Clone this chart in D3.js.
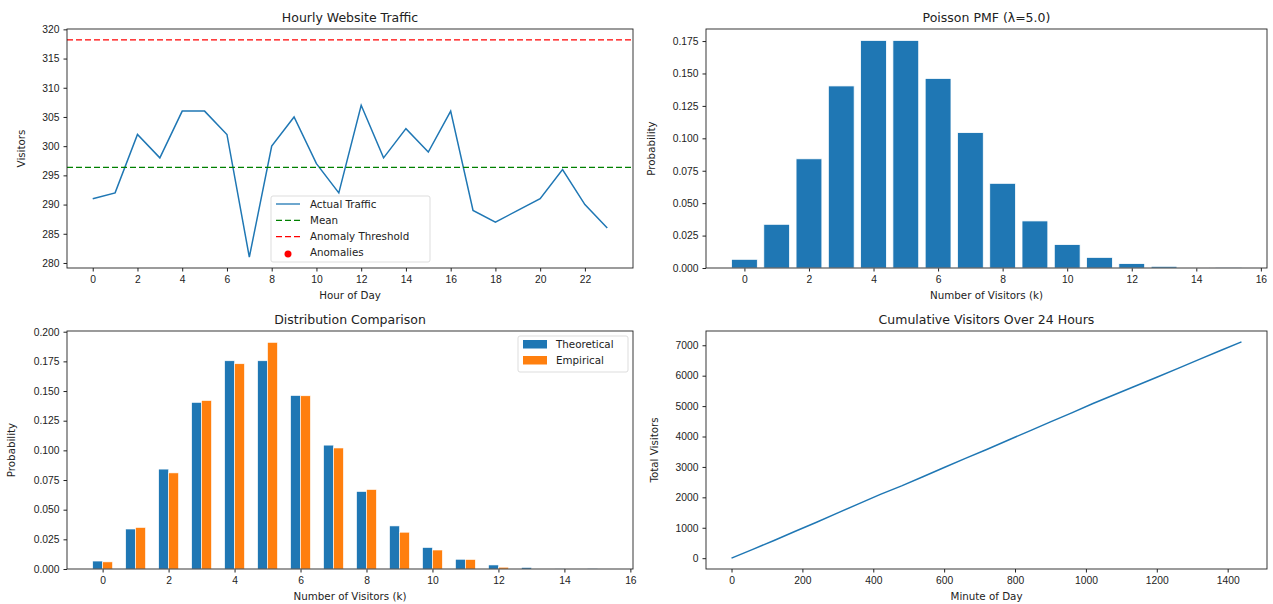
<!DOCTYPE html>
<html>
<head>
<meta charset="utf-8">
<script src="https://cdn.jsdelivr.net/npm/d3@7"></script>
<style>
  body { margin: 0; background: #fff; }
  svg { font-family: "DejaVu Sans", sans-serif; }
  .tick text { font-size: 10.3px; fill: #222; }
  .tick line { stroke: #222; }
  .domain { stroke: none; }
</style>
</head>
<body>
<svg width="1273" height="604"></svg>
<script>
// hourly traffic
var hours = d3.range(0, 24);
var traffic = [291, 292, 302, 298, 306, 306, 302, 281, 300, 305, 297, 292,
               307, 298, 303, 299, 306, 289, 287, 289, 291, 296, 290, 286];
var threshold = 318.2;

// poisson pmf
var kValues = d3.range(0, 16);
var theoretical = [0.0067, 0.0337, 0.0842, 0.1404, 0.1755, 0.1755, 0.1462, 0.1044,
                   0.0653, 0.0363, 0.0181, 0.0082, 0.0034, 0.0013, 0.0005, 0.0002];
var empirical = [0.006, 0.035, 0.081, 0.142, 0.173, 0.191, 0.146, 0.102,
                 0.067, 0.031, 0.016, 0.008, 0.0015, 0, 0, 0];

// cumulative visitors, sampled every hour
var minutes = [0, 60, 120, 180, 240, 300, 360, 420, 480, 540, 600, 660, 720,
               780, 840, 900, 960, 1020, 1080, 1140, 1200, 1260, 1320, 1380, 1439];
var cumulative = [0].concat(Array.from(d3.cumsum(traffic)));

var svg = d3.select("svg");
var blue = "#1f77b4", orange = "#ff7f0e";
var dash = "6,3";

function panel(box, xScale, yScale, xTicks, yTicks, yFmt, title, xLabel, yLabel, yLabelX) {
    var g = svg.append("g");
    g.append("g")
    .attr("transform", "translate(0," + box.bottom + ")")
    .call(d3.axisBottom(xScale).tickValues(xTicks).tickSize(3.5).tickPadding(4).tickFormat(d3.format("d")));
    g.append("g")
    .attr("transform", "translate(" + box.left + ",0)")
    .call(d3.axisLeft(yScale).tickValues(yTicks).tickSize(3.5).tickPadding(4).tickFormat(yFmt));
    svg.append("text")
    .attr("x", (box.left + box.right) / 2).attr("y", box.top - 7)
    .attr("text-anchor", "middle").attr("font-size", 12.5).attr("fill", "#222")
    .text(title);
    svg.append("text")
    .attr("x", (box.left + box.right) / 2).attr("y", box.bottom + 31)
    .attr("text-anchor", "middle").attr("font-size", 10.3).attr("fill", "#222")
    .text(xLabel);
    svg.append("text")
    .attr("transform", "translate(" + yLabelX + "," + (box.top + box.bottom) / 2 + ") rotate(-90)")
    .attr("text-anchor", "middle").attr("font-size", 10.3).attr("fill", "#222")
    .text(yLabel);
    return g;
}

function frame(box) {
    svg.append("rect")
    .attr("x", box.left).attr("y", box.top)
    .attr("width", box.right - box.left).attr("height", box.bottom - box.top)
    .attr("fill", "none").attr("stroke", "#222").attr("stroke-width", 0.9);
}

// ---------- top left: hourly traffic ----------
var b1 = { left: 67, right: 633, top: 29, bottom: 268 };
var x1 = d3.scaleLinear().domain([-1.15, 24.15]).range([b1.left, b1.right]);
var y1 = d3.scaleLinear().domain([279.14, 320.06]).range([b1.bottom, b1.top]);
panel(b1, x1, y1, d3.range(0, 24, 2), d3.range(280, 321, 5), d3.format("d"),
      "Hourly Website Traffic", "Hour of Day", "Visitors", 25);

var meanVal = d3.mean(traffic);
svg.append("path")
.attr("d", d3.line().x(function (d, i) { return x1(hours[i]) }).y(function (d) { return y1(d) })(traffic))
.attr("fill", "none").attr("stroke", blue).attr("stroke-width", 1.5);

svg.append("line")
.attr("x1", b1.left).attr("x2", b1.right).attr("y1", y1(meanVal)).attr("y2", y1(meanVal))
.attr("stroke", "green").attr("stroke-width", 1.3).attr("stroke-dasharray", dash);
svg.append("line")
.attr("x1", b1.left).attr("x2", b1.right).attr("y1", y1(threshold)).attr("y2", y1(threshold))
.attr("stroke", "red").attr("stroke-width", 1.3).attr("stroke-dasharray", dash);
frame(b1);

var leg1 = svg.append("g").attr("transform", "translate(271,196)");
leg1.append("rect").attr("width", 159).attr("height", 66).attr("rx", 2)
.attr("fill", "white").attr("fill-opacity", 0.8).attr("stroke", "#ddd");
var leg1Items = [
    { label: "Actual Traffic", type: "line", color: blue, dash: null },
    { label: "Mean", type: "line", color: "green", dash: dash },
    { label: "Anomaly Threshold", type: "line", color: "red", dash: dash },
    { label: "Anomalies", type: "dot", color: "red" }
];
leg1Items.forEach(function (d, i) {
    var yy = 8 + i * 16.3;
    if (d.type == "line") {
        leg1.append("line").attr("x1", 5).attr("x2", 29).attr("y1", yy).attr("y2", yy)
        .attr("stroke", d.color).attr("stroke-width", 1.3).attr("stroke-dasharray", d.dash);
    } else {
        leg1.append("circle").attr("cx", 17).attr("cy", yy + 1).attr("r", 3.5).attr("fill", d.color);
    }
    leg1.append("text").attr("x", 39).attr("y", yy + 3.5).attr("font-size", 10.3).attr("fill", "#222").text(d.label);
});

// ---------- top right: poisson pmf ----------
var b2 = { left: 706, right: 1267, top: 29, bottom: 268 };
var x2 = d3.scaleLinear().domain([-1.19, 16.19]).range([b2.left, b2.right]);
var y2 = d3.scaleLinear().domain([0, 0.1843]).range([b2.bottom, b2.top]);
panel(b2, x2, y2, d3.range(0, 17, 2), d3.range(0, 0.176, 0.025), d3.format(".3f"),
      "Poisson PMF (λ=5.0)", "Number of Visitors (k)", "Probability", 655);

svg.append("g").selectAll("rect")
.data(theoretical)
.join("rect")
.attr("x", function (d, i) { return x2(kValues[i] - 0.4) })
.attr("width", x2(0.8) - x2(0))
.attr("y", function (d) { return y2(d) })
.attr("height", function (d) { return y2(0) - y2(d) })
.attr("fill", blue).attr("stroke", "white").attr("stroke-width", 0.8);
frame(b2);

// ---------- bottom left: distribution comparison ----------
var b3 = { left: 67, right: 633, top: 331, bottom: 569 };
var x3 = d3.scaleLinear().domain([-1.08, 16.08]).range([b3.left, b3.right]);
var y3 = d3.scaleLinear().domain([0, 0.2006]).range([b3.bottom, b3.top]);
panel(b3, x3, y3, d3.range(0, 17, 2), d3.range(0, 0.201, 0.025), d3.format(".3f"),
      "Distribution Comparison", "Number of Visitors (k)", "Probability", 15);

svg.append("g").selectAll("rect")
.data(theoretical)
.join("rect")
.attr("x", function (d, i) { return x3(kValues[i] - 0.3) })
.attr("width", x3(0.3) - x3(0))
.attr("y", function (d) { return y3(d) })
.attr("height", function (d) { return y3(0) - y3(d) })
.attr("fill", blue).attr("stroke", "white").attr("stroke-width", 0.6);

svg.append("g").selectAll("rect")
.data(empirical)
.join("rect")
.attr("x", function (d, i) { return x3(kValues[i]) })
.attr("width", x3(0.3) - x3(0))
.attr("y", function (d) { return y3(d) })
.attr("height", function (d) { return y3(0) - y3(d) })
.attr("fill", orange).attr("stroke", "white").attr("stroke-width", 0.6);
frame(b3);

var leg3 = svg.append("g").attr("transform", "translate(518,336)");
leg3.append("rect").attr("width", 110).attr("height", 36).attr("rx", 2)
.attr("fill", "white").attr("fill-opacity", 0.8).attr("stroke", "#ddd");
[["Theoretical", blue], ["Empirical", orange]].forEach(function (d, i) {
    leg3.append("rect").attr("x", 5).attr("y", 4 + i * 16).attr("width", 24).attr("height", 8.5).attr("fill", d[1]);
    leg3.append("text").attr("x", 38).attr("y", 12 + i * 16).attr("font-size", 10.3).attr("fill", "#222").text(d[0]);
});

// ---------- bottom right: cumulative ----------
var b4 = { left: 706, right: 1267, top: 331, bottom: 569 };
var x4 = d3.scaleLinear().domain([-72, 1511]).range([b4.left, b4.right]);
var y4 = d3.scaleLinear().domain([-356, 7469]).range([b4.bottom, b4.top]);
panel(b4, x4, y4, d3.range(0, 1401, 200), d3.range(0, 7001, 1000), d3.format("d"),
      "Cumulative Visitors Over 24 Hours", "Minute of Day", "Total Visitors", 658);

svg.append("path")
.attr("d", d3.line().x(function (d, i) { return x4(minutes[i]) }).y(function (d) { return y4(d) })(cumulative))
.attr("fill", "none").attr("stroke", blue).attr("stroke-width", 1.5);
frame(b4);
</script>
</body>
</html>
